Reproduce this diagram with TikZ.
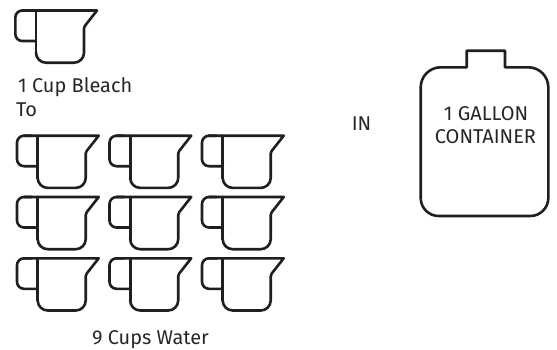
\documentclass[tikz,border=0pt]{standalone}
\usepackage{fontspec}
\setmainfont{Fira Sans}
\tikzset{
 x=1bp,y=-1bp,
 ink/.style={draw=black!88,line width=2.6bp,line join=round,line cap=round},
 lab/.style={font=\fontsize{20}{24}\selectfont,text=black!85,inner sep=0pt,align=left},
 cupshape/.pic={
  \draw[ink] (22,10.5) -- (97,10.5) [rounded corners=1.5bp] -- (84,27) [rounded corners=10bp] -- (84,62.7) -- (36,62.7) [sharp corners] -- (36,53);
  \draw[ink] (36,10.5) -- (36,53);
  \draw[ink,rounded corners=7bp] (36,41) -- (15.3,41) -- (15.3,10.5) -- (30,10.5);
 }
}
\begin{document}
\begin{tikzpicture}
\useasboundingbox (0,0) rectangle (557,349);
\pic at (0,0) {cupshape};
\foreach \dy in {125.2,186.5,247.8}{
 \foreach \dx in {1.7,94.2,186.7}{
  \pic at (\dx,\dy) {cupshape};
 }
}
\node[lab,anchor=base west] (cupa) at (18,92.7) {1 Cup Bleach};
\node[lab,anchor=base west] (to) at (16,116.7) {To};
\node[lab,anchor=base] (nine) at (150.5,344) {9 Cups Water};
\node[lab,anchor=base] (in) at (361.5,130) {IN};
\node[lab,anchor=base] (g1) at (486,120) {1 GALLON};
\node[lab,anchor=base] (g2) at (485.5,143.3) {CONTAINER};
\draw[ink] (466.7,67.3) -- (466.7,50.7) -- (505,50.7) -- (505,67.3) [rounded corners=20bp] -- (548.3,67.3) -- (548.3,140) [rounded corners=18bp] -- (548.3,216) -- (420.7,216) -- (420.7,140) [rounded corners=20bp] -- (420.7,67.3) [sharp corners] -- (466.7,67.3);
\end{tikzpicture}
\end{document}
